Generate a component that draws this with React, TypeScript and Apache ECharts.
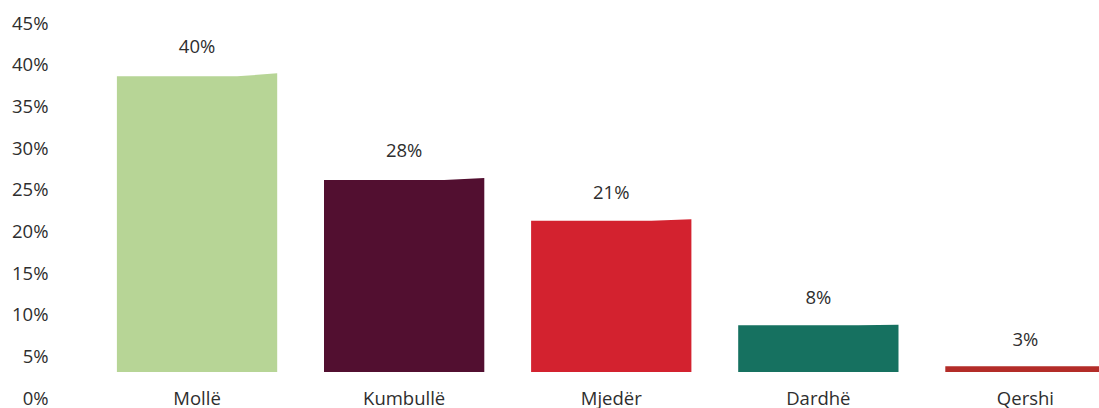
import React, { useEffect, useRef } from "react";
import * as echarts from "echarts";

// Categories (fruit types)
const categories = ["Mollë", "Kumbullë", "Mjedër", "Dardhë", "Qershi"];
// Printed share labels above the bars (%)
const shareLabels = [40, 28, 21, 8, 3];
// Bar heights as read against the left axis (%)
const barHeights = [38.5, 26.1, 21.2, 8.7, 3.8];
// Bar colours
const barColors = ["#B7D596", "#520F30", "#D3222F", "#167160", "#B32C28"];
// Left axis ticks
const yMin = 0;
const yMax = 45;
const yStep = 5;

const FONT = "'Open Sans', sans-serif";
const TEXT = "#2e2e2e";
const FS = 18.5;

export default function App() {
  const ref = useRef<HTMLDivElement>(null);

  useEffect(() => {
    if (!ref.current) return;
    const chart = echarts.init(ref.current, undefined, { renderer: "svg" });

    const gridLeft = 93.5;
    const barBaseMin = 3.11; // visible part of bars starts here on the left-axis scale

    const option: any = {
      animation: false,
      backgroundColor: "#ffffff",
      grid: [
        { left: gridLeft, right: 0, top: 22, bottom: 11 },
        { left: gridLeft, right: 0, top: 22, bottom: 36 },
      ],
      xAxis: [
        { type: "category", gridIndex: 0, data: categories, show: false },
        {
          type: "category",
          gridIndex: 1,
          data: categories,
          axisLine: { show: false },
          axisTick: { show: false },
          axisLabel: {
            margin: 17,
            fontSize: FS,
            lineHeight: 16,
            color: TEXT,
            fontFamily: FONT,
          },
        },
      ],
      yAxis: [
        {
          type: "value",
          gridIndex: 0,
          min: yMin,
          max: yMax,
          interval: yStep,
          splitLine: { show: false },
          axisLine: { show: false },
          axisTick: { show: false },
          axisLabel: {
            formatter: "{value}%",
            margin: 45,
            fontSize: FS,
            lineHeight: 16,
            color: TEXT,
            fontFamily: FONT,
          },
        },
        {
          type: "value",
          gridIndex: 1,
          min: barBaseMin,
          max: yMax,
          show: false,
        },
      ],
      series: [
        {
          type: "custom",
          xAxisIndex: 1,
          yAxisIndex: 1,
          encode: { x: 0, y: 1 },
          data: categories.map((_, i) => [i, barHeights[i], shareLabels[i]]),
          renderItem: (params: any, api: any) => {
            const i = api.value(0);
            const v = api.value(1);
            const lbl = api.value(2);
            const top = api.coord([i, v]);
            const band = api.size([1, 0])[0];
            const bw = band * 0.774;
            const x0 = top[0] - bw / 2;
            const x1 = top[0] + bw / 2;
            const base = params.coordSys.y + params.coordSys.height;
            const h = base - top[1];
            const rise = h * 0.01;
            const xs = x0 + bw * 0.75;
            return {
              type: "group",
              children: [
                {
                  type: "polygon",
                  shape: {
                    points: [
                      [x0, base],
                      [x0, top[1]],
                      [xs, top[1]],
                      [x1, top[1] - rise],
                      [x1, base],
                    ],
                  },
                  style: { fill: barColors[params.dataIndex] },
                },
                {
                  type: "text",
                  style: {
                    text: lbl + "%",
                    x: top[0],
                    y: top[1] - rise - 28,
                    align: "center",
                    verticalAlign: "middle",
                    fill: TEXT,
                    fontSize: FS,
                    fontFamily: FONT,
                  },
                },
              ],
            };
          },
        },
      ],
    };

    chart.setOption(option);
    return () => chart.dispose();
  }, []);

  return (
    <div
      style={{
        position: "absolute",
        left: 0,
        top: 0,
        width: 1099,
        height: 408,
        overflow: "hidden",
        background: "#ffffff",
      }}
    >
      <div ref={ref} style={{ width: 1129, height: 408 }} />
    </div>
  );
}
